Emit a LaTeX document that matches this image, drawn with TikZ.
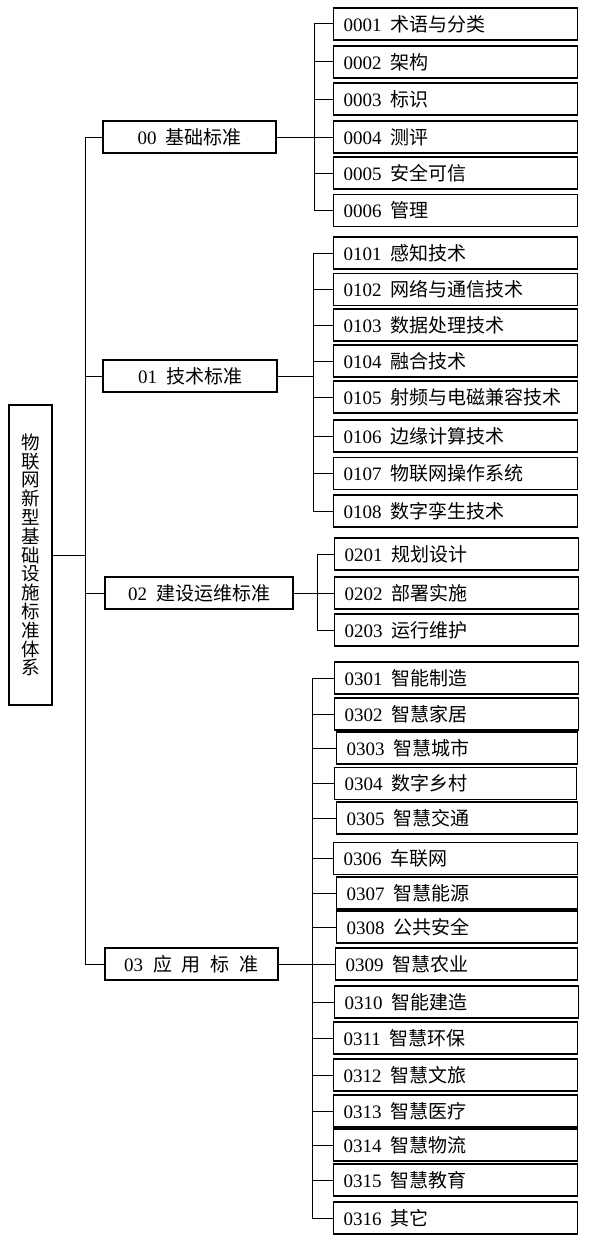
\documentclass[tikz,border=0pt]{standalone}
\usepackage{fontspec}
\setmainfont{Liberation Serif}
\newfontfamily\cjk{Noto Sans CJK SC}
\begin{document}
\begin{tikzpicture}[x=1pt,y=-1pt,
  box/.style={draw=black,line width=1.1pt,inner sep=0pt,font=\fontsize{19}{21}\selectfont},
  leaf/.style={box,anchor=west,text width=#1,align=left,inner xsep=10pt,minimum height=32pt},
  leaf/.default=224pt,
  cat/.style={box,minimum height=32pt,align=center},
  link/.style={draw=black,line width=1pt}]
\useasboundingbox (0,0) rectangle (596,1247);
\newcommand\gap{\hspace{9pt}}
% root
\node[box,minimum width=43pt,minimum height=300pt,font=\fontsize{18.5}{18.8}\selectfont\cjk,align=center] (root) at (30.5,555)
 {物\\联\\网\\新\\型\\基\\础\\设\\施\\标\\准\\体\\系};
% categories
\node[cat,minimum width=173pt] (c00) at (189.5,137) {00\gap{\cjk 基础标准}};
\node[cat,minimum width=174pt] (c01) at (190,376) {01\gap{\cjk 技术标准}};
\node[cat,minimum width=188pt] (c02) at (199,593) {02\gap{\cjk 建设运维标准}};
\node[cat,minimum width=173pt] (c03) at (191.5,964) {03\hspace{10pt}{\cjk 应}\hspace{10pt}{\cjk 用}\hspace{10pt}{\cjk 标}\hspace{10pt}{\cjk 准}};
% trunk
\coordinate (t) at (85,555);
\draw[link] (root.east) -- (t);
\draw[link] (c00.west -| t) -- (c03.west -| t);
\foreach \c in {c00,c01,c02,c03} \draw[link] (\c.west -| t) -- (\c.west);
% group 00
\node[leaf] (n0001) at (333,24) {0001\gap{\cjk 术语与分类}};
\node[leaf] (n0002) at (333,62) {0002\gap{\cjk 架构}};
\node[leaf] (n0003) at (333,99) {0003\gap{\cjk 标识}};
\node[leaf] (n0004) at (333,137) {0004\gap{\cjk 测评}};
\node[leaf] (n0005) at (333,173) {0005\gap{\cjk 安全可信}};
\node[leaf] (n0006) at (333,210.5) {0006\gap{\cjk 管理}};
\coordinate (b0) at (314,137);
\draw[link] (c00.east) -- (b0);
\draw[link] (n0001.west -| b0) -- (n0006.west -| b0);
\foreach \n in {n0001,n0002,n0003,n0004,n0005,n0006} \draw[link] (\n.west -| b0) -- (\n.west);
% group 01
\node[leaf] (n0101) at (333,253) {0101\gap{\cjk 感知技术}};
\node[leaf] (n0102) at (333,289.5) {0102\gap{\cjk 网络与通信技术}};
\node[leaf] (n0103) at (333,325) {0103\gap{\cjk 数据处理技术}};
\node[leaf] (n0104) at (333,361) {0104\gap{\cjk 融合技术}};
\node[leaf] (n0105) at (333,397) {0105\gap{\cjk 射频与电磁兼容技术}};
\node[leaf] (n0106) at (333,436) {0106\gap{\cjk 边缘计算技术}};
\node[leaf] (n0107) at (333,473.5) {0107\gap{\cjk 物联网操作系统}};
\node[leaf] (n0108) at (333,511) {0108\gap{\cjk 数字孪生技术}};
\coordinate (b1) at (313,376);
\draw[link] (c01.east) -- (b1);
\draw[link] (n0101.west -| b1) -- (n0108.west -| b1);
\foreach \n in {n0101,n0102,n0103,n0104,n0105,n0106,n0107,n0108} \draw[link] (\n.west -| b1) -- (\n.west);
% group 02
\node[leaf] (n0201) at (334,554) {0201\gap{\cjk 规划设计}};
\node[leaf] (n0202) at (334,593) {0202\gap{\cjk 部署实施}};
\node[leaf] (n0203) at (334,630) {0203\gap{\cjk 运行维护}};
\coordinate (b2) at (317,593);
\draw[link] (c02.east) -- (b2);
\draw[link] (n0201.west -| b2) -- (n0203.west -| b2);
\foreach \n in {n0201,n0202,n0203} \draw[link] (\n.west -| b2) -- (\n.west);
% group 03
\node[leaf] (n0301) at (334,678) {0301\gap{\cjk 智能制造}};
\node[leaf] (n0302) at (334,714) {0302\gap{\cjk 智慧家居}};
\node[leaf=221pt] (n0303) at (336,748) {0303\gap{\cjk 智慧城市}};
\node[leaf=222pt] (n0304) at (334,783.5) {0304\gap{\cjk 数字乡村}};
\node[leaf=221pt] (n0305) at (336,818) {0305\gap{\cjk 智慧交通}};
\node[leaf] (n0306) at (333,858.5) {0306\gap{\cjk 车联网}};
\node[leaf=221pt] (n0307) at (336,893) {0307\gap{\cjk 智慧能源}};
\node[leaf=221pt] (n0308) at (336,927) {0308\gap{\cjk 公共安全}};
\node[leaf=222pt] (n0309) at (335,964) {0309\gap{\cjk 智慧农业}};
\node[leaf=224pt] (n0310) at (334,1002) {0310\gap{\cjk 智能建造}};
\node[leaf] (n0311) at (333,1038) {0311\gap{\cjk 智慧环保}};
\node[leaf] (n0312) at (333,1075) {0312\gap{\cjk 智慧文旅}};
\node[leaf] (n0313) at (333,1111) {0313\gap{\cjk 智慧医疗}};
\node[leaf] (n0314) at (333,1145) {0314\gap{\cjk 智慧物流}};
\node[leaf] (n0315) at (333,1180) {0315\gap{\cjk 智慧教育}};
\node[leaf] (n0316) at (333,1218) {0316\gap{\cjk 其它}};
\coordinate (b3) at (312,964);
\draw[link] (c03.east) -- (b3);
\draw[link] (n0301.west -| b3) -- (n0316.west -| b3);
\foreach \n in {n0301,n0302,n0303,n0304,n0305,n0306,n0307,n0308,n0309,n0310,n0311,n0312,n0313,n0314,n0315,n0316} \draw[link] (\n.west -| b3) -- (\n.west);
\end{tikzpicture}
\end{document}
